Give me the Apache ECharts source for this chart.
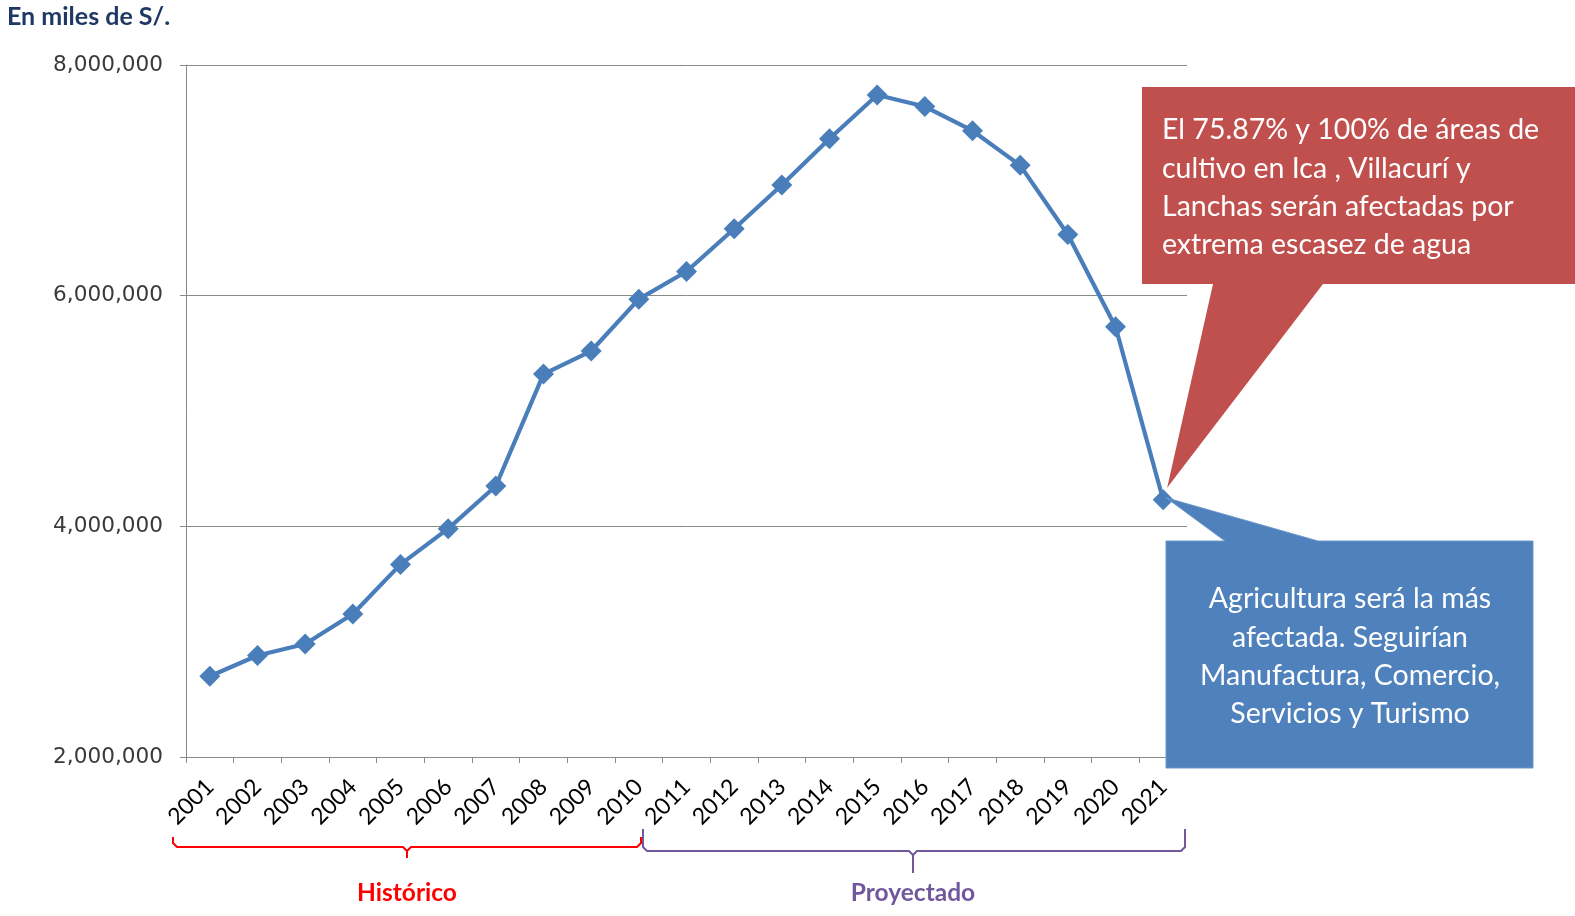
<!DOCTYPE html>
<html>
<head>
<meta charset="utf-8">
<script src="https://cdn.jsdelivr.net/npm/echarts@6/dist/echarts.min.js"></script>
<style>
html,body{margin:0;padding:0;background:#ffffff;}
#chart{width:1575px;height:916px;}
</style>
</head>
<body>
<div id="chart"></div>
<script>
// ---- data ----
const years = ['2001','2002','2003','2004','2005','2006','2007','2008','2009','2010','2011',
               '2012','2013','2014','2015','2016','2017','2018','2019','2020','2021'];
const values = [2700000, 2880000, 2980000, 3240000, 3670000, 3980000, 4350000, 5320000, 5520000, 5970000, 6210000,
                6580000, 6960000, 7360000, 7740000, 7640000, 7430000, 7130000, 6530000, 5730000, 4230000];
const yMin = 2000000;
const yMax = 8000000;
const yStep = 2000000;
const unitLabel = 'En miles de S/.';
const periodLabels = ['Histórico', 'Proyectado'];
const redNoteLines = ['El 75.87% y 100% de áreas de', 'cultivo en Ica , Villacurí y', 'Lanchas serán afectadas por', 'extrema escasez de agua'];
const blueNoteLines = ['Agricultura será la más', 'afectada. Seguirían', 'Manufactura, Comercio,', 'Servicios y Turismo'];

// ---- chart ----
const chart = echarts.init(document.getElementById('chart'), null, {renderer: 'canvas'});
const axisGray = '#8a8a8a';
const lineBlue = '#4A7EBB';

chart.setOption({
  animation: false,
  backgroundColor: '#ffffff',
  grid: {left: 186, right: 388, top: 65, bottom: 159, containLabel: false},
  xAxis: {
    type: 'category',
    data: years,
    boundaryGap: true,
    axisLine: {lineStyle: {color: axisGray, width: 1}},
    axisTick: {show: true, length: 6, lineStyle: {color: axisGray}},
    axisLabel: {rotate: 45, interval: 0, fontSize: 23, fontFamily: 'Lato', color: '#000000', margin: 26}
  },
  yAxis: {
    type: 'value',
    min: yMin, max: yMax, interval: yStep,
    axisLine: {show: true, lineStyle: {color: axisGray, width: 1}},
    axisTick: {show: true, length: 6, lineStyle: {color: axisGray}},
    splitLine: {show: true, lineStyle: {color: axisGray, width: 1}},
    axisLabel: {fontSize: 21.6, fontFamily: 'DejaVu Sans', color: '#3a3a3a', margin: 23,
      formatter: v => v.toLocaleString('en-US')}
  },
  series: [{
    type: 'line',
    data: values,
    symbol: 'diamond',
    symbolSize: 21,
    lineStyle: {color: lineBlue, width: 4.2},
    itemStyle: {color: lineBlue},
    z: 3
  }]
});

// ---- annotations ----
const last = chart.convertToPixel({gridIndex: 0}, [years.length - 1, values[values.length - 1]]);
const tx = last[0], ty = last[1];
const noteFont = '28.5px Lato';

function brace(x0, x1, xc, yTop, yH, yTip, color) {
  const c = 4;
  return [
    {type: 'polyline', z: 100, shape: {points: [[x0, yTop], [x0, yH - c], [x0 + c, yH], [xc - c, yH], [xc, yH + c], [xc, yTip]]},
      style: {stroke: color, lineWidth: 2, fill: null}},
    {type: 'polyline', z: 100, shape: {points: [[x1, yTop], [x1, yH - c], [x1 - c, yH], [xc + c, yH], [xc, yH + c]]},
      style: {stroke: color, lineWidth: 2, fill: null}}
  ];
}

const graphics = [
  {type: 'text', z: 100, style: {text: unitLabel, x: 7, y: 17, font: 'bold 25px Lato', fill: '#1F3864', align: 'left', verticalAlign: 'middle'}},
  // red callout
  {type: 'polygon', z: 100, shape: {points: [[1142, 87], [1575, 87], [1575, 284], [1323, 284], [tx + 4, ty - 12], [1213, 284], [1142, 284]]},
    style: {fill: '#C0504D', stroke: null}},
  {type: 'text', z: 101, style: {text: redNoteLines.join('\n'), x: 1162, y: 111, font: noteFont, lineHeight: 38.3, fill: '#ffffff', align: 'left', verticalAlign: 'top'}},
  // blue callout
  {type: 'polygon', z: 100, shape: {points: [[1166, 541], [1225, 541], [tx + 3, ty - 2], [1318, 541], [1533, 541], [1533, 768], [1166, 768]]},
    style: {fill: '#4F81BD', stroke: '#6d97c9', lineWidth: 1}},
  {type: 'text', z: 101, style: {text: blueNoteLines.join('\n'), x: 1350, y: 580, font: noteFont, lineHeight: 38.3, fill: '#ffffff', align: 'center', verticalAlign: 'top'}},
  // period labels
  {type: 'text', z: 100, style: {text: periodLabels[0], x: 407, y: 893, font: 'bold 24.5px Lato', fill: '#FF0000', align: 'center', verticalAlign: 'middle'}},
  {type: 'text', z: 100, style: {text: periodLabels[1], x: 913, y: 893, font: 'bold 24.5px Lato', fill: '#71589C', align: 'center', verticalAlign: 'middle'}}
].concat(brace(173, 641, 407, 837, 847, 858, '#FF0000'))
 .concat(brace(643, 1185, 913, 829, 851, 873, '#71589C'));

chart.setOption({graphic: graphics});
</script>
</body>
</html>
